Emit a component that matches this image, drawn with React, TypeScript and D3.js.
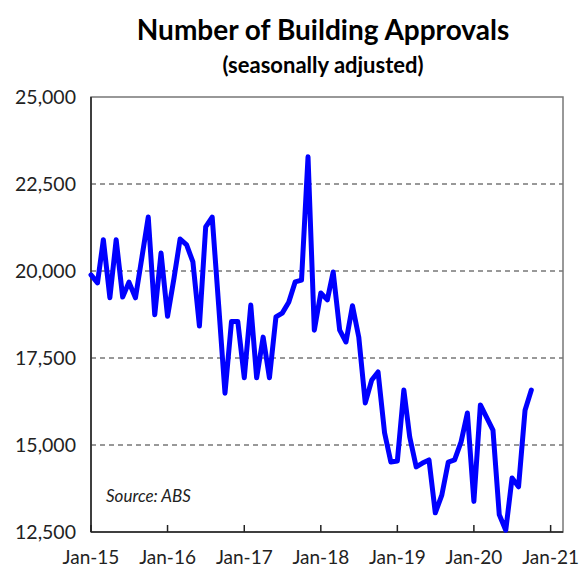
import React from 'react'
import * as d3 from 'd3'

// monthly building approvals, Jan-15 .. Oct-20
const approvals = [
  19890, 19660, 20900, 19230, 20900, 19250, 19680, 19230, 20400, 21550, 18740, 20520,
  18700, 19800, 20920, 20750, 20260, 18420, 21270, 21550, 19000, 16490, 18550, 18550,
  16930, 19020, 16930, 18100, 16930, 18680, 18790, 19100, 19690, 19740, 23280, 18300,
  19370, 19170, 19970, 18300, 17960, 19000, 18100, 16210, 16870, 17100, 15350, 14510,
  14540, 16580, 15230, 14370, 14480, 14570, 13050, 13560, 14510, 14570, 15090, 15920,
  13380, 16150, 15800, 15430, 13000, 12550, 14050, 13800, 16000, 16580,
]
const yTicks = [12500, 15000, 17500, 20000, 22500, 25000]
const xTickYears = [2015, 2016, 2017, 2018, 2019, 2020, 2021]

const W = 579
const H = 570
const margin = { top: 97, right: 16, bottom: 38, left: 91 }

const FONT = 'Lato, "Open Sans", sans-serif'

export default function App() {
  const dates = approvals.map((_, i) => new Date(2015, i, 1))

  const x = d3
    .scaleTime()
    .domain([new Date(2015, 0, 1), new Date(2021, 2, 1)])
    .range([margin.left, W - margin.right])

  const y = d3
    .scaleLinear()
    .domain([12500, 25000])
    .range([H - margin.bottom, margin.top])

  const line = d3
    .line<number>()
    .x((_, i) => x(dates[i]))
    .y(d => y(d))

  const fmt = d3.format(',')
  const left = margin.left
  const right = W - margin.right
  const top = margin.top
  const bottom = H - margin.bottom

  return (
    <svg
      width={W}
      height={H}
      style={{ position: 'absolute', left: 0, top: 0, background: '#fff' }}
    >
      <text x={323} y={40} textAnchor="middle" fontFamily={FONT} fontWeight="bold" fontSize={28}>
        Number of Building Approvals
      </text>
      <text x={323} y={73} textAnchor="middle" fontFamily={FONT} fontWeight="bold" fontSize={22}>
        (seasonally adjusted)
      </text>

      {yTicks.slice(1, -1).map(t => (
        <line
          key={t}
          x1={left}
          x2={right}
          y1={y(t)}
          y2={y(t)}
          stroke="#333"
          strokeWidth={1}
          strokeDasharray="5,4"
        />
      ))}

      <rect x={left} y={top} width={right - left} height={bottom - top} fill="none" stroke="#777" strokeWidth={1.5} />
      <line x1={left} x2={left} y1={top} y2={bottom} stroke="#222" strokeWidth={1.5} />
      <line x1={left} x2={right} y1={bottom} y2={bottom} stroke="#222" strokeWidth={1.5} />

      {xTickYears.map(yr => {
        const xx = x(new Date(yr, 0, 1))
        return (
          <g key={yr}>
            <line x1={xx} x2={xx} y1={bottom} y2={bottom - 7} stroke="#222" strokeWidth={1.5} />
            <text x={xx} y={bottom + 32} textAnchor="middle" fontFamily={FONT} fontSize={19} fill="#222">
              {`Jan-${String(yr).slice(2)}`}
            </text>
          </g>
        )
      })}

      {yTicks.map(t => (
        <text key={t} x={left - 15} y={y(t) + 7} textAnchor="end" fontFamily={FONT} fontSize={19.5} fill="#222">
          {fmt(t)}
        </text>
      ))}

      <path
        d={line(approvals) || ''}
        fill="none"
        stroke="#0000ff"
        strokeWidth={5}
        strokeLinejoin="round"
        strokeLinecap="round"
      />

      <text x={106} y={502} fontFamily={FONT} fontStyle="italic" fontSize={17} fill="#222">
        Source: ABS
      </text>
    </svg>
  )
}
